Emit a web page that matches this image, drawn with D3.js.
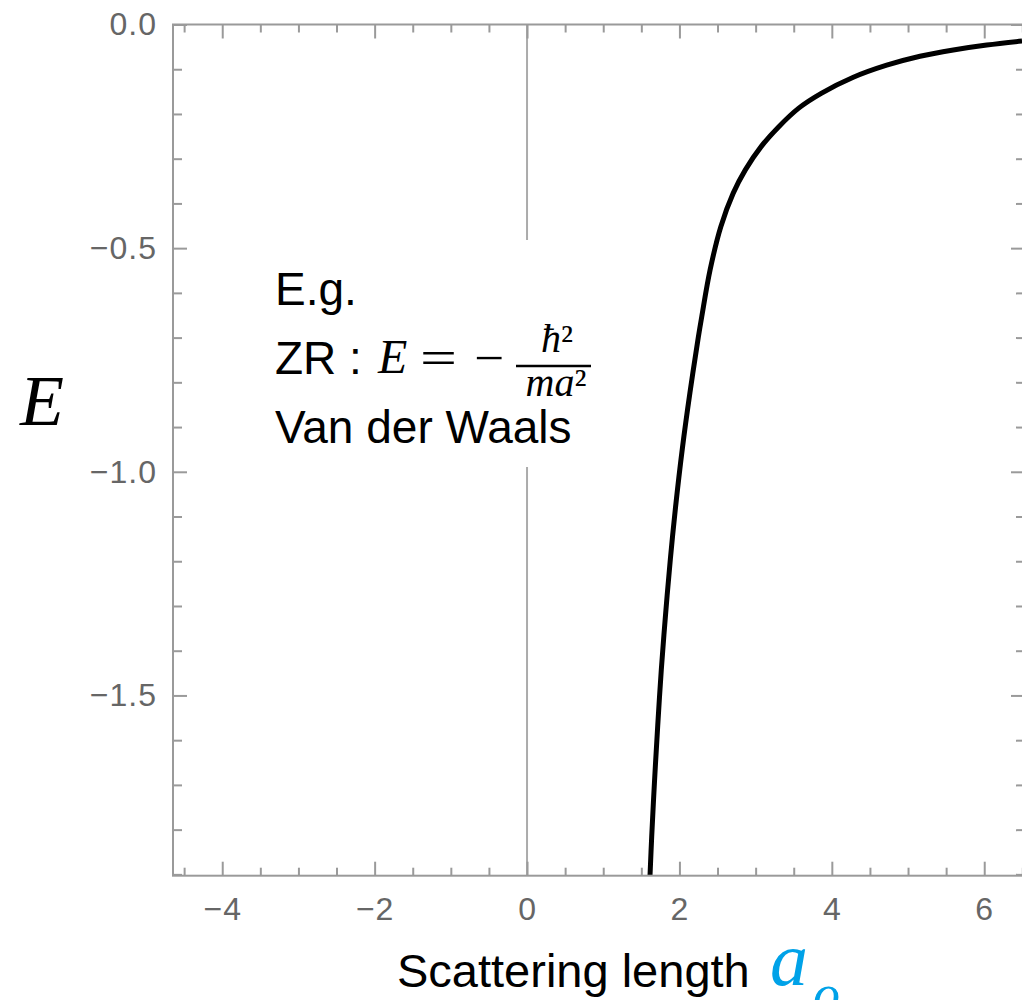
<!DOCTYPE html>
<html>
<head>
<meta charset="utf-8">
<script src="https://cdn.jsdelivr.net/npm/d3@7"></script>
<style>
  body { margin: 0; background: #fff; }
  svg { display: block; }
</style>
</head>
<body>
<div class="vis"></div>
<script>
// bound state energy vs scattering length
const scatteringLength = [
  1.614, 1.636, 1.673, 1.715, 1.762, 1.818, 1.881, 1.949, 2.039, 2.138,
  2.248, 2.293, 2.402, 2.543, 2.706, 2.865, 3.072, 3.301, 3.566, 3.861,
  4.282, 4.720, 5.157, 5.594, 6.033, 6.496
]
const energy = [
  -1.903, -1.816, -1.692, -1.568, -1.443, -1.319, -1.195, -1.079, -0.947, -0.823,
  -0.699, -0.653, -0.549, -0.452, -0.377, -0.325, -0.273, -0.229, -0.187, -0.154,
  -0.118, -0.091, -0.071, -0.057, -0.046, -0.037
]

const xMajorTicks = [-4, -2, 0, 2, 4, 6]
const yMajorTicks = [0, -0.5, -1.0, -1.5]
const xDomain = [-4.646, 6.535]
const yDomain = [-1.903, 0]

const width = 1022
const height = 1000
const frame = { left: 173, right: 1025, top: 24.5, bottom: 875.7 }

const svg = d3
  .select('.vis')
  .append('svg')
  .attr('width', width)
  .attr('height', height)

const x = d3.scaleLinear().domain(xDomain).range([frame.left, frame.right])
const y = d3.scaleLinear().domain(yDomain).range([frame.bottom, frame.top])

const axisColor = '#9a9a9a'
const labelFont = '"Liberation Sans", Arial, sans-serif'
const mathFont = '"Liberation Serif", "Times New Roman", serif'

// zero line (partly hidden by the text box)
svg
  .append('line')
  .attr('x1', x(0))
  .attr('x2', x(0))
  .attr('y1', frame.top)
  .attr('y2', frame.bottom)
  .attr('stroke', '#ababab')
  .attr('stroke-width', 2)

// white box behind the annotation
svg
  .append('rect')
  .attr('x', 262)
  .attr('y', 240)
  .attr('width', 345)
  .attr('height', 227)
  .attr('fill', '#fff')

// curve
svg
  .append('clipPath')
  .attr('id', 'plot-clip')
  .append('rect')
  .attr('x', frame.left)
  .attr('y', frame.top)
  .attr('width', frame.right - frame.left)
  .attr('height', frame.bottom - frame.top)

const points = scatteringLength.map((a, i) => [a, energy[i]])
const line = d3
  .line()
  .x(d => x(d[0]))
  .y(d => y(d[1]))
  .curve(d3.curveCatmullRom.alpha(0.5))

svg
  .append('path')
  .datum(points)
  .attr('clip-path', 'url(#plot-clip)')
  .attr('d', line)
  .attr('fill', 'none')
  .attr('stroke', '#000')
  .attr('stroke-width', 5)
  .attr('stroke-linejoin', 'round')

// frame
svg
  .append('rect')
  .attr('x', frame.left)
  .attr('y', frame.top)
  .attr('width', frame.right - frame.left)
  .attr('height', frame.bottom - frame.top)
  .attr('fill', 'none')
  .attr('stroke', axisColor)
  .attr('stroke-width', 2)

const xMinorTicks = d3.range(-4.5, 6.51, 0.5).filter(v => !xMajorTicks.includes(v))
const yMinorTicks = d3.range(-1.9, 0.01, 0.1).filter(v => !yMajorTicks.some(t => Math.abs(t - v) < 1e-6))

function addAxis(axis, transform, withLabels) {
  const g = svg
    .append('g')
    .attr('transform', transform)
    .call(axis)
  g.select('.domain').remove()
  g.selectAll('.tick line').attr('stroke', axisColor).attr('stroke-width', 2)
  g
    .selectAll('.tick text')
    .attr('fill', '#666')
    .style('font-family', labelFont)
    .style('font-size', '32px')
    .style('letter-spacing', '1px')
  if (!withLabels) g.selectAll('.tick text').remove()
  return g
}

// bottom
addAxis(
  d3.axisBottom(x).tickValues(xMajorTicks).tickSize(-14).tickPadding(22).tickFormat(d3.format('d')),
  `translate(0,${frame.bottom})`,
  true
)
addAxis(d3.axisBottom(x).tickValues(xMinorTicks).tickSize(-8), `translate(0,${frame.bottom})`, false)
// top
addAxis(d3.axisTop(x).tickValues(xMajorTicks).tickSize(-14), `translate(0,${frame.top})`, false)
addAxis(d3.axisTop(x).tickValues(xMinorTicks).tickSize(-8), `translate(0,${frame.top})`, false)
// left
addAxis(
  d3.axisLeft(y).tickValues(yMajorTicks).tickSize(-14).tickPadding(16).tickFormat(d3.format('.1f')),
  `translate(${frame.left},0)`,
  true
)
addAxis(d3.axisLeft(y).tickValues(yMinorTicks).tickSize(-9), `translate(${frame.left},0)`, false)
// right
addAxis(d3.axisRight(y).tickValues(yMajorTicks).tickSize(-14), `translate(${frame.right},0)`, false)
addAxis(d3.axisRight(y).tickValues(yMinorTicks).tickSize(-9), `translate(${frame.right},0)`, false)

// axis titles
svg
  .append('text')
  .attr('x', 20)
  .attr('y', 425)
  .style('font-family', mathFont)
  .style('font-style', 'italic')
  .style('font-size', '72px')
  .text('E')

svg
  .append('text')
  .attr('x', 397)
  .attr('y', 987)
  .style('font-family', labelFont)
  .style('font-size', '47px')
  .text('Scattering length')

svg
  .append('text')
  .attr('x', 770)
  .attr('y', 985)
  .attr('fill', '#00a2e8')
  .style('font-family', mathFont)
  .style('font-style', 'italic')
  .style('font-size', '76px')
  .text('a')

svg
  .append('text')
  .attr('x', 813)
  .attr('y', 1012)
  .attr('fill', '#00a2e8')
  .style('font-family', mathFont)
  .style('font-style', 'italic')
  .style('font-size', '54px')
  .text('o')

// annotation
const note = svg
  .append('g')
  .style('font-family', labelFont)
  .style('font-size', '46px')

note.append('text').attr('x', 275).attr('y', 305).text('E.g.')
note.append('text').attr('x', 275).attr('y', 374).text('ZR :')
note.append('text').attr('x', 275).attr('y', 443).text('Van der Waals')

const math = svg
  .append('g')
  .style('font-family', mathFont)

math
  .append('text')
  .attr('x', 378)
  .attr('y', 373)
  .style('font-style', 'italic')
  .style('font-size', '48px')
  .text('E')

math
  .append('text')
  .attr('x', 420)
  .attr('y', 374)
  .attr('textLength', 37)
  .attr('lengthAdjust', 'spacingAndGlyphs')
  .style('font-size', '48px')
  .text('=')

math
  .append('text')
  .attr('x', 474)
  .attr('y', 374)
  .attr('textLength', 30)
  .attr('lengthAdjust', 'spacingAndGlyphs')
  .style('font-size', '48px')
  .text('\u2212')

math
  .append('line')
  .attr('x1', 516)
  .attr('x2', 591)
  .attr('y1', 366)
  .attr('y2', 366)
  .attr('stroke', '#000')
  .attr('stroke-width', 2.5)

const num = math
  .append('text')
  .attr('x', 557)
  .attr('y', 352)
  .attr('text-anchor', 'middle')
  .style('font-size', '40px')
num.append('tspan').style('font-style', 'italic').text('\u0127')
num.append('tspan').text('\u00b2')

const den = math
  .append('text')
  .attr('x', 556)
  .attr('y', 396)
  .attr('text-anchor', 'middle')
  .style('font-size', '40px')
den.append('tspan').style('font-style', 'italic').text('ma')
den.append('tspan').text('\u00b2')
</script>
</body>
</html>
